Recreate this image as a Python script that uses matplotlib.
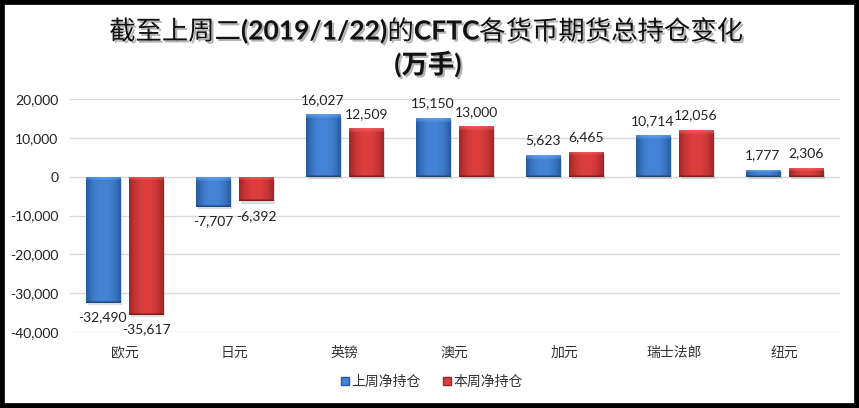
import numpy as np
import matplotlib
matplotlib.use("Agg")
import matplotlib.pyplot as plt
from matplotlib.patches import Rectangle, Patch
import matplotlib.patheffects as pe
from matplotlib.offsetbox import TextArea, HPacker, AnchoredOffsetbox

categories = ["欧元", "日元", "英镑", "澳元", "加元", "瑞士法郎", "纽元"]
last_week = [-32490, -7707, 16027, 15150, 5623, 10714, 1777]
this_week = [-35617, -6392, 12509, 13000, 6465, 12056, 2306]
series_names = ["上周净持仓", "本周净持仓"]
yticks = [-40000, -30000, -20000, -10000, 0, 10000, 20000]
title_parts = ["截至上周二", "(2019/1/22)", "的", "CFTC", "各货币期货总持仓变化"]
title_line2 = "(万手)"

W, H = 859, 408
fig = plt.figure(figsize=(W / 100, H / 100), dpi=100)
fig.patch.set_facecolor("white")
ax = fig.add_axes([69.5 / W, (H - 332) / H, 770 / W, (332 - 99) / H])
ax.set_xlim(-0.5, len(categories) - 0.5)
ax.set_ylim(-40000, 20000)

num_font = ["Lato", "Noto Sans CJK SC", "DejaVu Sans"]
cjk_font = ["Noto Sans CJK SC", "DejaVu Sans"]

ax.set_yticks(yticks)
ax.set_yticklabels([f"{v:,}" for v in yticks], family=num_font, fontsize=10, color="#222222")
ax.set_xticks(range(len(categories)))
ax.set_xticklabels(categories, family=cjk_font, fontsize=10, color="#333333")
ax.tick_params(length=0, pad=8)
ax.tick_params(axis="x", pad=10)
for s in ax.spines.values():
    s.set_visible(False)
ax.grid(axis="y", color="#d9d9d9", linewidth=1)
ax.set_axisbelow(True)

bw = 0.31
offsets = [-0.197, 0.197]
mid_cols = [np.array([68, 132, 214]) / 255, np.array([220, 62, 62]) / 255]
edge_cols = [np.array([40, 90, 160]) / 255, np.array([160, 38, 38]) / 255]
px_per_unit = 233 / 60000.0

def gradient_img(h_px, mid, edge):
    h = max(int(round(h_px)), 2)
    w = 34
    xs = np.linspace(-1, 1, w)
    prof = np.clip(np.abs(xs) ** 2.2, 0, 1)
    row = mid[None, :] * (1 - prof[:, None]) + edge[None, :] * prof[:, None]
    img = np.repeat(row[None, :, :], h, axis=0).copy()
    bev = min(4, max(h // 3, 1))
    light = np.clip(mid + 0.18, 0, 1)
    for r in range(bev):
        a = 0.55 * (1 - r / (bev + 1))
        img[r] = img[r] * (1 - a) + light * a
    img[-1] = edge * 0.8
    if h > 4:
        img[-2] = img[-2] * 0.5 + edge * 0.8 * 0.5
    return img

for si, vals in enumerate([last_week, this_week]):
    xpos = np.arange(len(categories)) + offsets[si]
    bars = ax.bar(xpos, vals, width=bw, color=mid_cols[si], edgecolor="none", zorder=3,
                  path_effects=[pe.SimplePatchShadow(offset=(1.5, -1.5), alpha=0.2, shadow_rgbFace="#555555"), pe.Normal()])
    for b, v in zip(bars, vals):
        x0 = b.get_x()
        x1 = x0 + b.get_width()
        hpx = abs(v) * px_per_unit
        img = gradient_img(hpx, mid_cols[si], edge_cols[si])
        extent = (x0, x1, 0, v) if v >= 0 else (x0, x1, v, 0)
        im = ax.imshow(img, extent=extent, aspect="auto", zorder=4, interpolation="nearest", origin="upper")
        im.set_clip_path(b)
        if v >= 0:
            ax.annotate(f"{v:,}", (b.get_x() + b.get_width() / 2, v), xytext=(0, 6),
                        textcoords="offset points", ha="center", va="bottom",
                        family=num_font, fontsize=10, color="#222222", zorder=6, annotation_clip=False)
        else:
            ax.annotate(f"{v:,}", (b.get_x() + b.get_width() / 2, v), xytext=(0, -6),
                        textcoords="offset points", ha="center", va="top",
                        family=num_font, fontsize=10, color="#222222", zorder=6, annotation_clip=False)

ax.set_xlim(-0.5, len(categories) - 0.5)
ax.set_ylim(-40000, 20000)

handles = [Patch(facecolor=mid_cols[0], edgecolor=edge_cols[0]),
           Patch(facecolor=mid_cols[1], edgecolor=edge_cols[1])]
leg = fig.legend(handles, series_names, loc="center", bbox_to_anchor=(432 / W, 1 - 382 / H),
                 ncol=2, frameon=False, prop={"family": cjk_font, "size": 10},
                 handlelength=0.55, handleheight=0.55, handletextpad=0.2, columnspacing=1.6)
for t in leg.get_texts():
    t.set_color("#333333")

shadow_fx = [pe.SimplePatchShadow(offset=(1.5, -1.5), alpha=0.3), pe.Normal()]
children = []
for i, part in enumerate(title_parts):
    is_ascii = part.isascii()
    props = dict(family=num_font if is_ascii else cjk_font,
                 fontsize=19, color="#111111",
                 fontweight="bold" if is_ascii else "medium",
                 path_effects=shadow_fx)
    children.append(TextArea(part, textprops=props))
pack = HPacker(children=children, align="baseline", pad=0, sep=0)
box = AnchoredOffsetbox(loc="center", child=pack, pad=0, frameon=False,
                        bbox_to_anchor=(426 / W, 1 - 32 / H), bbox_transform=fig.transFigure,
                        borderpad=0)
fig.add_artist(box)

fig.text(428 / W, 1 - 64 / H, title_line2, ha="center", va="center", family=num_font,
         fontsize=19, fontweight="bold", color="#111111", path_effects=shadow_fx)

fig.add_artist(Rectangle((0, 0), 1, 1, transform=fig.transFigure, fill=False,
                         edgecolor="black", linewidth=7, clip_on=False, zorder=10))

fig.savefig("out.png", dpi=100, facecolor="white")
